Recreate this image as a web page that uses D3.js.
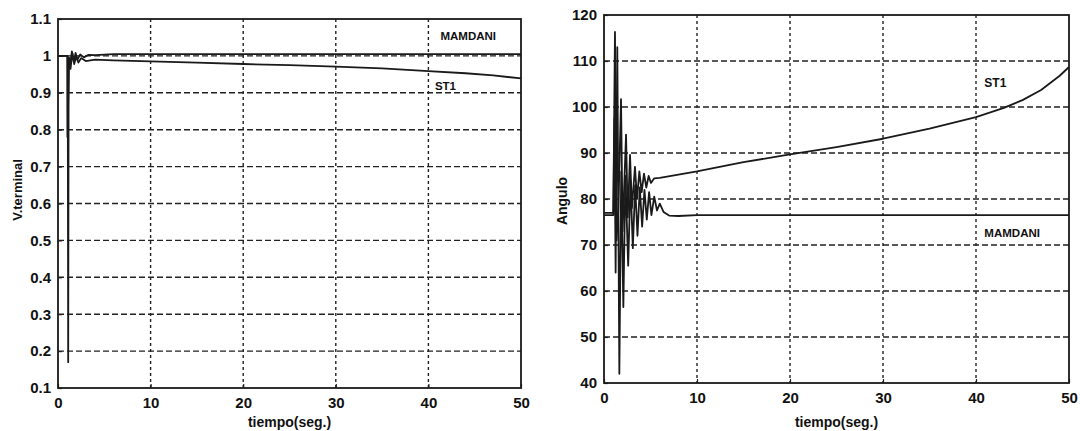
<!DOCTYPE html>
<html>
<head>
<meta charset="utf-8">
<script src="https://cdn.jsdelivr.net/npm/d3@7"></script>
<style>
	body { margin: 0; background: #fff; }
	text { font-family: 'Liberation Sans Narrow', 'Arial Narrow', 'Liberation Sans', Arial, sans-serif; font-weight: bold; fill: #111; }
</style>
</head>
<body>
<div id="chart"></div>
<script>
var timeTicks = [0, 10, 20, 30, 40, 50];
var voltTicks = [0.1, 0.2, 0.3, 0.4, 0.5, 0.6, 0.7, 0.8, 0.9, 1, 1.1];
var angleTicks = [40, 50, 60, 70, 80, 90, 100, 110, 120];

// [tiempo, valor]
var voltMamdani = [
	[0, 1.0], [1.05, 1.0], [1.1, 0.17], [1.15, 0.99], [1.3, 0.975], [1.5, 1.012],
	[1.7, 0.985], [1.9, 1.008], [2.1, 0.99], [2.4, 1.004], [2.8, 0.996], [3.3, 1.003],
	[4, 1.002], [6, 1.005], [50, 1.005]
];
var voltST1 = [
	[0, 1.0], [1.0, 1.0], [1.02, 0.78], [1.2, 0.995], [1.35, 0.965], [1.55, 1.008],
	[1.75, 0.978], [1.95, 0.998], [2.2, 0.982], [2.5, 0.994], [3, 0.986], [4, 0.99],
	[6, 0.988], [10, 0.985], [15, 0.982], [20, 0.978], [25, 0.975], [30, 0.971],
	[35, 0.966], [40, 0.959], [44, 0.953], [47, 0.947], [50, 0.939]
];
var angleMamdani = [
	[0, 76.5], [1.0, 76.5], [1.12, 97.5], [1.25, 64], [1.43, 113], [1.65, 42],
	[1.85, 86], [2.08, 56.5], [2.3, 85], [2.6, 65.5], [2.85, 84], [3.1, 69.3],
	[3.35, 83], [3.6, 72], [3.85, 82.5], [4.1, 74], [4.35, 82], [4.6, 75.5],
	[4.85, 81.5], [5.1, 76.5], [5.4, 80.5], [5.7, 77.5], [6.0, 79], [6.4, 77.2],
	[7, 76.4], [8, 76.3], [10, 76.5], [50, 76.5]
];
var angleST1 = [
	[0, 77], [1.0, 77], [1.18, 116.3], [1.35, 71], [1.55, 78], [1.83, 101.7],
	[2.0, 73], [2.37, 94], [2.55, 76], [2.8, 89.6], [3.0, 78], [3.33, 87],
	[3.55, 80], [3.8, 86], [4.05, 81.5], [4.3, 85.5], [4.55, 82.5], [4.8, 85],
	[5.05, 83.5], [5.4, 84.5], [6, 84.6], [8, 85.3], [10, 86], [15, 88],
	[20, 89.7], [25, 91.3], [30, 93.1], [35, 95.3], [40, 97.8], [43, 99.8],
	[45, 101.5], [47, 103.7], [49, 106.8], [50, 108.7]
];

var svg = d3.select('#chart')
	.append('svg')
	.attr('width', 1080)
	.attr('height', 431);

var drawPanel = function(opt) {

	var x = d3.scaleLinear()
		.domain([0, 50])
		.range([opt.left, opt.right]);

	var y = d3.scaleLinear()
		.domain([opt.yTicks[0], opt.yTicks[opt.yTicks.length - 1]])
		.range([opt.bottom, opt.top]);

	var g = svg.append('g');

	// grid
	g.selectAll('.hgrid')
		.data(opt.yTicks.slice(1, -1))
		.enter()
		.append('line')
		.attr('x1', opt.left)
		.attr('x2', opt.right)
		.attr('y1', function(d) {return y(d)})
		.attr('y2', function(d) {return y(d)})
		.attr('stroke', '#222')
		.attr('stroke-width', 1.4)
		.attr('stroke-dasharray', '6,3');

	g.selectAll('.vgrid')
		.data(timeTicks.slice(1, -1))
		.enter()
		.append('line')
		.attr('x1', function(d) {return x(d)})
		.attr('x2', function(d) {return x(d)})
		.attr('y1', opt.top)
		.attr('y2', opt.bottom)
		.attr('stroke', '#222')
		.attr('stroke-width', 1.4)
		.attr('stroke-dasharray', '3,3');

	// axes
	var xAxis = d3.axisBottom(x)
		.tickValues(timeTicks)
		.tickSize(-4)
		.tickPadding(9)
		.tickFormat(d3.format('d'));

	var yAxis = d3.axisLeft(y)
		.tickValues(opt.yTicks)
		.tickSize(-4)
		.tickPadding(7)
		.tickFormat(function(d) {return String(d)});

	g.append('g')
		.attr('transform', 'translate(0,' + opt.bottom + ')')
		.call(xAxis)
		.call(function(a) {a.select('.domain').remove()})
		.selectAll('text')
		.style('font-size', '15px')
		.style('font-family', null);

	g.append('g')
		.attr('transform', 'translate(' + opt.left + ',0)')
		.call(yAxis)
		.call(function(a) {a.select('.domain').remove()})
		.selectAll('text')
		.style('font-size', '15px')
		.style('font-family', null);

	g.selectAll('.tick line')
		.attr('stroke', '#222')
		.attr('stroke-width', 1.2);

	g.selectAll('.tick text')
		.attr('fill', '#111');

	// series
	var line = d3.line()
		.x(function(d) {return x(d[0])})
		.y(function(d) {return y(d[1])});

	opt.series.forEach(function(s) {
		g.append('path')
			.datum(s)
			.attr('d', line)
			.attr('fill', 'none')
			.attr('stroke', '#1a1a1a')
			.attr('stroke-width', 1.8)
			.attr('stroke-linejoin', 'round');
	});

	// box
	g.append('rect')
		.attr('x', opt.left)
		.attr('y', opt.top)
		.attr('width', opt.right - opt.left)
		.attr('height', opt.bottom - opt.top)
		.attr('fill', 'none')
		.attr('stroke', '#1a1a1a')
		.attr('stroke-width', 1.8);

	// curve labels
	opt.notes.forEach(function(n) {
		g.append('text')
			.text(n.text)
			.attr('x', x(n.t))
			.attr('y', y(n.v))
			.style('font-size', n.size + 'px');
	});

	g.append('text')
		.text('tiempo(seg.)')
		.attr('x', (opt.left + opt.right) / 2)
		.attr('y', 427)
		.attr('text-anchor', 'middle')
		.style('font-size', '14px');

	g.append('text')
		.text(opt.yLabel)
		.attr('text-anchor', 'middle')
		.attr('transform', 'translate(' + opt.yLabelX + ',' + opt.yLabelY + ') rotate(-90)')
		.style('font-size', opt.yLabelSize + 'px');
};

drawPanel({
	left: 58, right: 521, top: 19, bottom: 388,
	yTicks: voltTicks,
	series: [voltMamdani, voltST1],
	notes: [
		{text: 'MAMDANI', t: 41.3, v: 1.043, size: 11.5},
		{text: 'ST1', t: 40.7, v: 0.908, size: 11.5}
	],
	yLabel: 'V.terminal', yLabelX: 22, yLabelY: 190, yLabelSize: 13
});

drawPanel({
	left: 604, right: 1069, top: 15, bottom: 383,
	yTicks: angleTicks,
	series: [angleMamdani, angleST1],
	notes: [
		{text: 'ST1', t: 40.9, v: 104.3, size: 12},
		{text: 'MAMDANI', t: 40.9, v: 71.7, size: 11.5}
	],
	yLabel: 'Angulo', yLabelX: 567, yLabelY: 201, yLabelSize: 14
});
</script>
</body>
</html>
